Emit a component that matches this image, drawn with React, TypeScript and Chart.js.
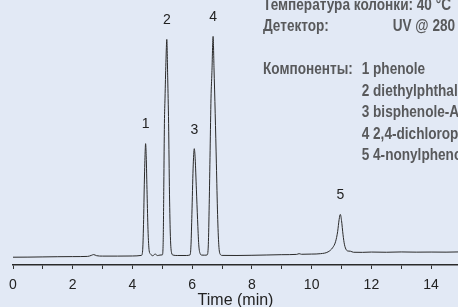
import { useEffect, useRef } from 'react';
import { Chart, registerables } from 'chart.js';

Chart.register(...registerables);

// Retention time (min) and detector signal (arbitrary units)
const times = [
  0, 0.5, 1.0, 1.5, 2.0, 2.5, 2.62, 2.7, 2.8, 3.0, 3.5, 4.0,
  4.30, 4.34, 4.37, 4.40, 4.425, 4.44, 4.46, 4.49, 4.52, 4.56, 4.60,
  4.68, 4.76, 4.84, 4.92,
  5.00, 5.03, 5.05, 5.07, 5.09, 5.12, 5.15, 5.18, 5.21, 5.24, 5.27, 5.31, 5.36,
  5.5, 5.8,
  5.93, 5.96, 5.99, 6.03, 6.07, 6.10, 6.14, 6.18, 6.22, 6.27, 6.32,
  6.42, 6.50, 6.54, 6.57, 6.60, 6.63, 6.66, 6.70, 6.73, 6.77, 6.81, 6.85, 6.89, 6.94, 7.0,
  7.5, 8.0, 8.5, 9.0, 9.5, 9.58, 9.66, 10.0, 10.3,
  10.55, 10.7, 10.8, 10.87, 10.92, 10.96, 11.0, 11.05, 11.1, 11.16, 11.22, 11.3, 11.4,
  11.7, 12.0, 12.5, 13.0, 13.5, 14.0, 14.5, 14.9,
];
const signal = [
  7.7, 7.8, 8.0, 8.2, 8.3, 8.5, 9.5, 10.3, 9.2, 8.8, 8.8, 8.9,
  9.5, 14, 40, 85, 112, 120, 108, 70, 35, 14, 11,
  9.2, 10.8, 9.3, 9.8,
  10, 25, 80, 140, 165, 200, 223, 185, 140, 70, 28, 12, 9.8,
  9.4, 9.4,
  10, 20, 50, 95, 115, 105, 75, 45, 20, 11, 9.8,
  9.7, 10, 20, 60, 113, 165, 190, 226, 195, 150, 100, 50, 20, 10.5, 9.5,
  9.4, 9.6, 9.9, 10.2, 10.5, 11.2, 10.6, 10.8, 11.2,
  13, 17, 23, 33, 45, 50, 44, 30, 20, 15, 13.8, 13.6, 12.6,
  12.5, 12.8, 12.6, 12.9, 12.7, 12.8, 12.7, 12.9,
];

// Peak annotations
const peakNumbers = ['1', '2', '3', '4', '5'];
const peakTimes = [4.44, 5.15, 6.07, 6.70, 10.96];
const peakHeights = [120, 223, 115, 226, 50];

// X axis ticks (min)
const xTicks = [0, 1, 2, 3, 4, 5, 6, 7, 8, 9, 10, 11, 12, 13, 14];

// Method description text
const infoLabels = ['Температура колонки: 40 °C', 'Детектор:', '', 'Компоненты:', '', '', '', ''];
const infoValues = ['', 'UV @ 280 nm', '', '1 phenole', '2 diethylphthalate', '3 bisphenole-A', '4 2,4-dichlorophenol', '5 4-nonylphenol'];

const NARROW = 0.85;

const annotate = {
  id: 'annotate',
  afterDatasetsDraw(chart: any) {
    const { ctx, scales } = chart;
    const x = scales.x;
    const y = scales.y;
    ctx.save();
    ctx.font = '14px "Liberation Sans", Arial, sans-serif';
    ctx.fillStyle = '#222';
    ctx.textAlign = 'center';
    ctx.textBaseline = 'middle';
    peakNumbers.forEach((n, i) => {
      ctx.fillText(n, x.getPixelForValue(peakTimes[i]), y.getPixelForValue(peakHeights[i]) - 19);
    });
    ctx.restore();

    ctx.save();
    ctx.scale(NARROW, 1);
    ctx.font = 'bold 16px "Liberation Sans", Arial, sans-serif';
    ctx.fillStyle = '#58595b';
    ctx.textAlign = 'left';
    ctx.textBaseline = 'alphabetic';
    infoLabels.forEach((t, i) => {
      const base = 9.5 + 21.5 * i;
      if (t) ctx.fillText(t, 263 / NARROW, base);
      const v = infoValues[i];
      if (v) ctx.fillText(v, (i === 1 ? 392.7 : 361.7) / NARROW, base);
    });
    ctx.restore();
  },
};

export default function App() {
  const ref = useRef<HTMLCanvasElement>(null);
  useEffect(() => {
    if (!ref.current) return;
    const chart = new Chart(ref.current, {
      type: 'line',
      data: {
        datasets: [
          {
            data: times.map((t, i) => ({ x: t, y: signal[i] })),
            borderColor: '#2a2a2a',
            borderWidth: 1,
            pointRadius: 0,
            fill: false,
            cubicInterpolationMode: 'monotone',
          },
        ],
      },
      options: {
        animation: false,
        responsive: false,
        layout: { padding: { left: 13, right: 0, top: 0, bottom: 0 } },
        plugins: { legend: { display: false }, tooltip: { enabled: false } },
        scales: {
          x: {
            type: 'linear',
            min: 0,
            max: 14.9,
            afterBuildTicks: (s: any) => {
              s.ticks = xTicks.map((v) => ({ value: v }));
            },
            ticks: {
              autoSkip: false,
              maxRotation: 0,
              padding: 9,
              color: '#222',
              font: { family: '"Liberation Sans", Arial, sans-serif', size: 14, lineHeight: 1 },
              callback: (v: any) => (Number(v) % 2 === 0 ? String(v) : ''),
            },
            grid: { display: true, drawOnChartArea: false, drawTicks: true, tickLength: 4, tickColor: '#333', color: '#333', lineWidth: 1 },
            border: { display: true, color: '#2a2a2a', width: 1.5 },
            title: {
              display: true,
              text: 'Time (min)',
              color: '#222',
              font: { family: '"Liberation Sans", Arial, sans-serif', size: 16, lineHeight: 1 },
              padding: { top: -8, bottom: -2 },
            },
          },
          y: { display: false, min: 0, max: 262 },
        },
      },
      plugins: [annotate],
    } as any);
    return () => chart.destroy();
  }, []);
  return (
    <div style={{ position: 'fixed', left: 0, top: 0, width: 458, height: 307, background: '#e2e9f5' }}>
      <canvas ref={ref} width={458} height={307} style={{ display: 'block' }} />
    </div>
  );
}
